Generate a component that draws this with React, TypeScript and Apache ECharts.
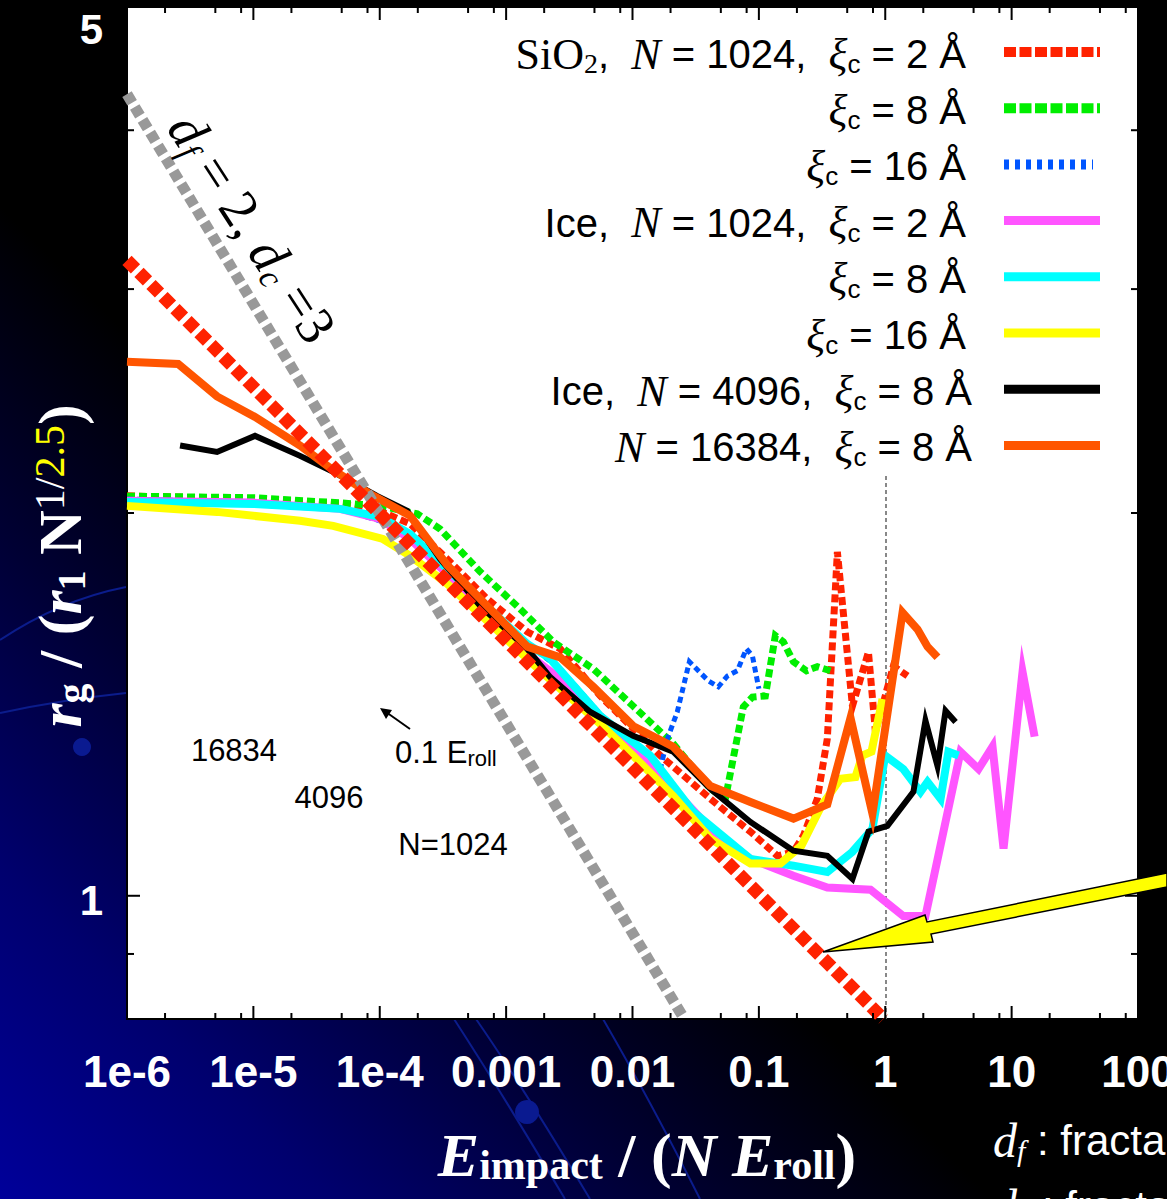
import React, { useEffect, useRef } from "react";
import * as echarts from "echarts";

// ---------------- axes ----------------
const xMin = 1e-6;
const xMax = 100;
const yMin = 0.8;
const yMax = 5;
const xDecades = [1e-6, 1e-5, 1e-4, 1e-3, 1e-2, 1e-1, 1, 10, 100];
const xTickLabels = ["1e-6", "1e-5", "1e-4", "0.001", "0.01", "0.1", "1", "10", "100"];
const xMinorFactors = [2, 5, 8];
const yTickValues = [0.9, 1, 2, 3, 4, 5];
const yTickLabels = ["", "1", "", "", "", "5"];
const yTickMajor = [0, 1, 0, 0, 0, 1];
const yLabelShift = [0, 5, 0, 0, 0, 22];

// vertical reference lines: 0.1 E_roll / N  for N = 16384, 4096, 1024, and x = 1
const thresholdLines = [6.1e-6, 2.44e-5, 9.77e-5];
const unitLine = [1];
const unitLineTop = 2.15;

// ---------------- data ----------------
const sio2Xi2 = [
  [1e-6, 2.063], [1e-5, 2.051], [4.85e-5, 2.033], [1e-4, 2.008], [1.74e-4, 1.961], [3.42e-4, 1.84],
  [7.08e-4, 1.712], [1.47e-3, 1.613], [2.68e-3, 1.564], [5.56e-3, 1.436], [0.0166, 1.289], [0.0413, 1.192],
  [0.0857, 1.123], [0.14, 1.075], [0.1875, 1.083], [0.225, 1.115], [0.29, 1.192], [0.348, 1.329],
  [0.418, 1.864], [0.55, 1.41], [0.736, 1.555], [0.836, 1.346], [1.16, 1.516], [1.5, 1.489],
];
const sio2Xi8 = [
  [1e-6, 2.062], [1e-5, 2.056], [4.85e-5, 2.037], [1e-4, 2.026], [1.98e-4, 1.997], [3.0e-4, 1.943],
  [6.24e-4, 1.798], [1.29e-3, 1.681], [2.36e-3, 1.584], [4.9e-3, 1.508], [0.0101, 1.41], [0.021, 1.317],
  [0.0413, 1.214], [0.0543, 1.192], [0.0753, 1.408], [0.0889, 1.433], [0.1125, 1.436], [0.135, 1.602],
  [0.156, 1.584], [0.1875, 1.528], [0.238, 1.503], [0.29, 1.514], [0.368, 1.503],
];
const sio2Xi16 = [
  [1e-6, 2.051], [1e-5, 2.04], [4.85e-5, 2.015], [1e-4, 1.972], [1.74e-4, 1.908], [3.42e-4, 1.791],
  [7.08e-4, 1.675], [1.47e-3, 1.578], [2.68e-3, 1.508], [5.56e-3, 1.39], [0.0101, 1.31], [0.0166, 1.258],
  [0.0189, 1.329], [0.0226, 1.395], [0.0282, 1.528], [0.0332, 1.503], [0.0398, 1.476], [0.0478, 1.46],
  [0.0564, 1.489], [0.0676, 1.503], [0.0796, 1.564], [0.0889, 1.544], [0.0955, 1.489], [0.1, 1.455],
];
const iceXi2 = [
  [1e-6, 2.045], [1e-5, 2.038], [4.85e-5, 2.015], [1e-4, 1.979], [1.74e-4, 1.908], [3.42e-4, 1.791],
  [7.08e-4, 1.666], [1.47e-3, 1.55], [2.68e-3, 1.481], [5.56e-3, 1.378], [0.0101, 1.305], [0.021, 1.214],
  [0.0413, 1.129], [0.0857, 1.069], [0.1875, 1.037], [0.348, 1.015], [0.764, 1.011], [1.39, 0.964],
  [2.08, 0.964], [3.94, 1.298], [5.47, 1.258], [7.06, 1.31], [8.63, 1.089], [12.2, 1.5], [15.2, 1.334],
];
const iceXi8 = [
  [1e-6, 2.04], [1e-5, 2.033], [4.85e-5, 2.015], [1e-4, 1.986], [1.74e-4, 1.925], [3.42e-4, 1.807],
  [7.08e-4, 1.687], [1.47e-3, 1.578], [2.23e-3, 1.536], [5.56e-3, 1.385], [0.0138, 1.289], [0.0303, 1.164],
  [0.0857, 1.069], [0.1875, 1.056], [0.348, 1.044], [0.55, 1.083], [0.792, 1.129], [1.0, 1.289],
  [1.39, 1.258], [1.9, 1.207], [2.16, 1.229], [2.74, 1.192], [3.16, 1.298], [3.8, 1.289],
];
const iceXi16 = [
  [1e-6, 2.026], [5.16e-6, 2.004], [2.34e-5, 1.972], [4.28e-5, 1.954], [1.06e-4, 1.908], [1.74e-4, 1.851],
  [3.42e-4, 1.759], [7.08e-4, 1.645], [1.47e-3, 1.536], [2.68e-3, 1.455], [5.56e-3, 1.365], [0.0101, 1.289],
  [0.021, 1.198], [0.0413, 1.109], [0.0857, 1.06], [0.148, 1.06], [0.217, 1.095], [0.313, 1.177],
  [0.442, 1.236], [0.581, 1.24], [0.659, 1.289], [0.778, 1.298], [0.951, 1.428],
];
const ice4096 = [
  [2.63e-6, 2.26], [5.16e-6, 2.234], [1.03e-5, 2.3], [2.34e-5, 2.218], [4.28e-5, 2.155], [9.5e-5, 2.063],
  [1.65e-4, 2.008], [3.0e-4, 1.84], [6.24e-4, 1.69], [1.47e-3, 1.564], [2.23e-3, 1.486], [4.63e-3, 1.395],
  [0.0101, 1.336], [0.021, 1.298], [0.0413, 1.214], [0.0857, 1.143], [0.1875, 1.085], [0.348, 1.075],
  [0.55, 1.031], [0.736, 1.123], [1.04, 1.135], [1.67, 1.207], [2.08, 1.373], [2.59, 1.265], [3.0, 1.398],
  [3.6, 1.37],
];
const ice16384 = [
  [1e-6, 2.63], [2.54e-6, 2.62], [5.16e-6, 2.47], [1.03e-5, 2.38], [2.34e-5, 2.26], [4.05e-5, 2.17],
  [8.4e-5, 2.07], [1.74e-4, 1.99], [3.42e-4, 1.82], [7.08e-4, 1.69], [1.47e-3, 1.57], [2.68e-3, 1.54],
  [4.89e-3, 1.46], [0.0101, 1.36], [0.021, 1.31], [0.0413, 1.22], [0.0857, 1.185], [0.188, 1.15],
  [0.348, 1.18], [0.531, 1.38], [0.792, 1.16], [1.37, 1.67], [1.8, 1.62], [2.16, 1.57], [2.59, 1.54],
];
const fitPowerLaw = [[1e-6, 3.16], [0.968, 0.8]];
const fitDf2Dc3 = [[1e-6, 4.27], [0.0257, 0.8]];

// ---------------- legend ----------------
const legendLabels = [
  "{rm|SiO}{rsub|2}{t|,  }{it|N}{t| = 1024,  }{it|ξ}{sub|c}{t| = 2 Å}",
  "{it|ξ}{sub|c}{t| = 8 Å}",
  "{it|ξ}{sub|c}{t| = 16 Å}",
  "{t|Ice,  }{it|N}{t| = 1024,  }{it|ξ}{sub|c}{t| = 2 Å}",
  "{it|ξ}{sub|c}{t| = 8 Å}",
  "{it|ξ}{sub|c}{t| = 16 Å}",
  "{t|Ice,  }{it|N}{t| = 4096,  }{it|ξ}{sub|c}{t| = 8 Å}",
  "{it|N}{t| = 16384,  }{it|ξ}{sub|c}{t| = 8 Å}",
];

const seriesDefs = [
  { name: "SiO2 N=1024 xi=2", data: sio2Xi2, color: "#ff2200", width: 7, dash: [8, 4], lw: 10, ldash: [12, 3.5], lend: 1100 },
  { name: "SiO2 N=1024 xi=8", data: sio2Xi8, color: "#00ee00", width: 7, dash: [8, 4], lw: 10, ldash: [12, 3.5], lend: 1100 },
  { name: "SiO2 N=1024 xi=16", data: sio2Xi16, color: "#0055ff", width: 5, dash: [6, 4], lw: 10, ldash: [5, 6], lend: 1093 },
  { name: "Ice N=1024 xi=2", data: iceXi2, color: "#ff55ff", width: 8, dash: null, lw: 9, ldash: null, lend: 1100 },
  { name: "Ice N=1024 xi=8", data: iceXi8, color: "#00ffff", width: 8, dash: null, lw: 9, ldash: null, lend: 1100 },
  { name: "Ice N=1024 xi=16", data: iceXi16, color: "#ffff00", width: 8, dash: null, lw: 9, ldash: null, lend: 1100 },
  { name: "Ice N=4096 xi=8", data: ice4096, color: "#000000", width: 6, dash: null, lw: 9, ldash: null, lend: 1100 },
  { name: "Ice N=16384 xi=8", data: ice16384, color: "#ff5500", width: 8, dash: null, lw: 9, ldash: null, lend: 1100 },
];

const SANS = '"Liberation Sans", Arial, sans-serif';
const SERIF = '"Liberation Serif", "Times New Roman", serif';

function buildOption() {
  const xTickData: number[][] = [];
  xDecades.forEach((d, i) => {
    xTickData.push([d, 1, 13]);
    if (i < xDecades.length - 1) xMinorFactors.forEach((f) => xTickData.push([d * f, 1, 6]));
  });
  const yTickData = yTickValues.map((v, i) => [1, v, yTickMajor[i] ? 13 : 7, i]);

  const legendRich = {
    t: { fontFamily: SANS, fontSize: 40, fill: "#000", lineHeight: 46 },
    it: { fontFamily: SERIF, fontStyle: "italic", fontSize: 44, fill: "#000", lineHeight: 46 },
    rm: { fontFamily: SERIF, fontSize: 44, fill: "#000", lineHeight: 46 },
    sub: { fontFamily: SANS, fontSize: 26, fill: "#000", lineHeight: 22, verticalAlign: "bottom" },
    rsub: { fontFamily: SERIF, fontSize: 28, fill: "#000", lineHeight: 22, verticalAlign: "bottom" },
  };

  const legendEls: any[] = [];
  legendLabels.forEach((lab, i) => {
    const y = 52 + i * 56.2;
    const def = seriesDefs[i];
    legendEls.push({
      type: "text",
      x: i >= 6 ? 972 : 966,
      y: y + 2,
      z: 100,
      style: { text: lab, rich: legendRich, align: "right", verticalAlign: "middle" },
    });
    legendEls.push({
      type: "line",
      z: 100,
      shape: { x1: 1004, y1: y, x2: def.lend, y2: y },
      style: { stroke: def.color, lineWidth: def.lw, lineDash: def.ldash || null },
    });
  });

  const deco = "#0b1c8c";
  const decorations: any[] = [
    { type: "bezierCurve", z: -10, shape: { x1: 454, y1: 1019, cpx1: 500, cpy1: 1090, x2: 565, y2: 1199 }, style: { stroke: deco, lineWidth: 2, fill: null } },
    { type: "bezierCurve", z: -10, shape: { x1: 476, y1: 1019, cpx1: 525, cpy1: 1090, x2: 590, y2: 1199 }, style: { stroke: deco, lineWidth: 2, fill: null } },
    { type: "bezierCurve", z: -10, shape: { x1: 603, y1: 1019, cpx1: 650, cpy1: 1100, x2: 700, y2: 1199 }, style: { stroke: deco, lineWidth: 2, fill: null } },
    { type: "bezierCurve", z: -10, shape: { x1: 0, y1: 640, cpx1: 60, cpy1: 600, x2: 126, y2: 587 }, style: { stroke: deco, lineWidth: 2, fill: null } },
    { type: "bezierCurve", z: -10, shape: { x1: 0, y1: 713, cpx1: 60, cpy1: 700, x2: 126, y2: 693 }, style: { stroke: deco, lineWidth: 2, fill: null } },
    { type: "circle", z: -10, shape: { cx: 82, cy: 747, r: 9 }, style: { fill: "#0a1a90" } },
    { type: "circle", z: -10, shape: { cx: 527, cy: 1112, r: 12 }, style: { fill: "#0a1a90" } },
  ];

  const annotations: any[] = [
    { type: "text", x: 234, y: 750, z: 50, style: { text: "16834", fontFamily: SANS, fontSize: 31, fill: "#000", align: "center", verticalAlign: "middle" } },
    { type: "text", x: 329, y: 797, z: 50, style: { text: "4096", fontFamily: SANS, fontSize: 31, fill: "#000", align: "center", verticalAlign: "middle" } },
    { type: "text", x: 453, y: 844, z: 50, style: { text: "N=1024", fontFamily: SANS, fontSize: 31, fill: "#000", align: "center", verticalAlign: "middle" } },
    {
      type: "text", x: 395, y: 752, z: 50,
      style: {
        text: "{a|0.1 E}{s|roll}", align: "left", verticalAlign: "middle",
        rich: {
          a: { fontFamily: SANS, fontSize: 31, fill: "#000", lineHeight: 34 },
          s: { fontFamily: SANS, fontSize: 22, fill: "#000", lineHeight: 20, verticalAlign: "bottom" },
        },
      },
    },
    { type: "line", z: 50, shape: { x1: 410, y1: 729, x2: 386, y2: 712 }, style: { stroke: "#000", lineWidth: 2 } },
    { type: "polygon", z: 50, shape: { points: [[380, 708], [392, 710], [386, 719]] }, style: { fill: "#000" } },
    {
      type: "text", x: 252, y: 228, z: 50, rotation: -57 * Math.PI / 180,
      style: {
        text: "{i|d}{s|f}{t| = 2, }{i|d}{s|c}{t| =3}", align: "center", verticalAlign: "middle",
        rich: {
          i: { fontFamily: SERIF, fontStyle: "italic", fontSize: 54, fill: "#000", lineHeight: 56 },
          t: { fontFamily: SERIF, fontSize: 54, fill: "#000", lineHeight: 56 },
          s: { fontFamily: SERIF, fontStyle: "italic", fontSize: 34, fill: "#000", lineHeight: 26, verticalAlign: "bottom" },
        },
      },
    },
    {
      type: "polygon", z: 60,
      shape: { points: [[823, 952], [925, 915], [927, 922], [1167, 873], [1167, 887], [931, 934], [933, 942]] },
      style: { fill: "#ffff00", stroke: "#000", lineWidth: 1.5 },
    },
  ];

  const titles: any[] = [
    {
      type: "text", x: 60, y: 566, rotation: Math.PI / 2, z: 50,
      style: {
        text: "{bi|r}{bs|g}{b| / (}{bi|r}{bs|1}{b| N}{sup|1/}{supy|2.5}{b|)}",
        align: "center", verticalAlign: "middle",
        rich: {
          b: { fontFamily: SERIF, fontWeight: "bold", fontSize: 62, fill: "#fff", lineHeight: 62 },
          bi: { fontFamily: SERIF, fontWeight: "bold", fontStyle: "italic", fontSize: 62, fill: "#fff", lineHeight: 62 },
          bs: { fontFamily: SERIF, fontWeight: "bold", fontSize: 40, fill: "#fff", lineHeight: 28, verticalAlign: "bottom" },
          sup: { fontFamily: SERIF, fontSize: 42, fill: "#fff", lineHeight: 30, verticalAlign: "top" },
          supy: { fontFamily: SERIF, fontSize: 42, fill: "#ffff00", lineHeight: 30, verticalAlign: "top" },
        },
      },
    },
    {
      type: "text", x: 647, y: 1155, z: 50,
      style: {
        text: "{bi|E}{bs|impact}{b| / (}{bi|N E}{bs|roll}{b|)}",
        align: "center", verticalAlign: "middle",
        rich: {
          b: { fontFamily: SERIF, fontWeight: "bold", fontSize: 62, fill: "#fff", lineHeight: 62 },
          bi: { fontFamily: SERIF, fontWeight: "bold", fontStyle: "italic", fontSize: 62, fill: "#fff", lineHeight: 62 },
          bs: { fontFamily: SERIF, fontWeight: "bold", fontSize: 42, fill: "#fff", lineHeight: 24, verticalAlign: "bottom" },
        },
      },
    },
    {
      type: "text", x: 993, y: 1140, z: 50,
      style: {
        text: "{i|d}{s|f}{t| : fractal dimension}", align: "left", verticalAlign: "middle",
        rich: {
          i: { fontFamily: SERIF, fontStyle: "italic", fontSize: 48, fill: "#fff", lineHeight: 50 },
          s: { fontFamily: SERIF, fontStyle: "italic", fontSize: 30, fill: "#fff", lineHeight: 24, verticalAlign: "bottom" },
          t: { fontFamily: SANS, fontSize: 42, fill: "#fff", lineHeight: 50 },
        },
      },
    },
    {
      type: "text", x: 993, y: 1206, z: 50,
      style: {
        text: "{i|d}{s|c}{t| : fractal dimension}", align: "left", verticalAlign: "middle",
        rich: {
          i: { fontFamily: SERIF, fontStyle: "italic", fontSize: 48, fill: "#fff", lineHeight: 50 },
          s: { fontFamily: SERIF, fontStyle: "italic", fontSize: 30, fill: "#fff", lineHeight: 24, verticalAlign: "bottom" },
          t: { fontFamily: SANS, fontSize: 42, fill: "#fff", lineHeight: 50 },
        },
      },
    },
  ];

  const dataSeries = seriesDefs.map((d, i) => ({
    type: "line",
    name: d.name,
    data: d.data,
    symbol: "none",
    showSymbol: false,
    silent: true,
    clip: true,
    z: 3 + i,
    lineStyle: { color: d.color, width: d.width, type: d.dash || "solid", cap: "butt", join: "miter", miterLimit: 8 },
    emphasis: { disabled: true },
    ...(i === 0
      ? {
          markLine: {
            silent: true,
            symbol: "none",
            z: 1,
            label: { show: false },
            emphasis: { disabled: true },
            data: [
              ...thresholdLines.map((x) => ({ xAxis: x, lineStyle: { color: "#000", width: 1, type: [4, 3] } })),
              ...unitLine.map((x) => [
                { coord: [x, yMin], lineStyle: { color: "#888", width: 2, type: [4, 3] } },
                { coord: [x, unitLineTop] },
              ]),
            ],
          },
        }
      : {}),
  }));

  return {
    animation: false,
    backgroundColor: "transparent",
    grid: {
      left: 127, right: 29, top: 7, bottom: 180, show: true, backgroundColor: "#fff",
      borderColor: "#000", borderWidth: 2, containLabel: false, outerBoundsMode: "none",
    },
    xAxis: {
      type: "log",
      logBase: 10,
      min: xMin,
      max: xMax,
      axisLine: { show: false },
      axisTick: { show: false },
      splitLine: { show: false },
      axisLabel: {
        show: true,
        showMinLabel: true,
        showMaxLabel: true,
        hideOverlap: false,
        color: "#fff",
        fontSize: 44,
        fontWeight: "bold",
        fontFamily: SANS,
        margin: 30,
        formatter: (v: number) => {
          const i = Math.round(Math.log10(v)) + 6;
          return xTickLabels[i] ?? "";
        },
      },
    },
    yAxis: {
      type: "log",
      logBase: 10,
      min: yMin,
      max: yMax,
      axisLine: { show: false },
      axisTick: { show: false },
      splitLine: { show: false },
      axisLabel: { show: false },
    },
    graphic: [...decorations, ...titles, ...annotations, ...legendEls],
    series: [
      ...dataSeries,
      {
        type: "line", name: "df2dc3", data: fitDf2Dc3, symbol: "none", silent: true, clip: true, z: 19,
        lineStyle: { color: "#999999", width: 11, type: [10, 5], cap: "butt" },
        emphasis: { disabled: true },
      },
      {
        type: "line", name: "powerlaw", data: fitPowerLaw, symbol: "none", silent: true, clip: true, z: 20,
        lineStyle: { color: "#ff2200", width: 13, type: [12, 5], cap: "butt" },
        emphasis: { disabled: true },
      },
      {
        type: "custom", name: "xticks", silent: true, z: 30, data: xTickData,
        renderItem: (params: any, api: any) => {
          const cs = params.coordSys;
          const px = api.coord([api.value(0), 1])[0];
          const len = api.value(2);
          const bottom = cs.y + cs.height;
          return {
            type: "group",
            children: [
              { type: "line", shape: { x1: px, y1: bottom, x2: px, y2: bottom - len }, style: { stroke: "#000", lineWidth: 2 } },
              { type: "line", shape: { x1: px, y1: cs.y, x2: px, y2: cs.y + len }, style: { stroke: "#000", lineWidth: 2 } },
            ],
          };
        },
      },
      {
        type: "custom", name: "yticks", silent: true, z: 30, data: yTickData,
        renderItem: (params: any, api: any) => {
          const cs = params.coordSys;
          const py = api.coord([1, api.value(1)])[1];
          const len = api.value(2);
          const idx = api.value(3);
          const right = cs.x + cs.width;
          const children: any[] = [
            { type: "line", shape: { x1: cs.x, y1: py, x2: cs.x + len, y2: py }, style: { stroke: "#000", lineWidth: 2 } },
            { type: "line", shape: { x1: right, y1: py, x2: right - len, y2: py }, style: { stroke: "#000", lineWidth: 2 } },
          ];
          const lab = yTickLabels[idx];
          if (lab) {
            children.push({
              type: "text",
              x: cs.x - 24,
              y: py + yLabelShift[idx],
              style: { text: lab, fill: "#fff", fontSize: 42, fontWeight: "bold", fontFamily: SANS, align: "right", verticalAlign: "middle" },
            });
          }
          return { type: "group", children };
        },
      },
    ],
  };
}

export default function App() {
  const ref = useRef<HTMLDivElement>(null);
  useEffect(() => {
    if (!ref.current) return;
    const chart = echarts.init(ref.current, undefined, { renderer: "svg" });
    chart.setOption(buildOption() as any);
    return () => chart.dispose();
  }, []);
  return (
    <div
      ref={ref}
      style={{
        position: "absolute",
        left: 0,
        top: 0,
        width: 1167,
        height: 1199,
        overflow: "hidden",
        background: "linear-gradient(45deg, #00009a 0%, #00006e 14%, #000034 28%, #000000 42%, #000000 100%)",
      }}
    />
  );
}
